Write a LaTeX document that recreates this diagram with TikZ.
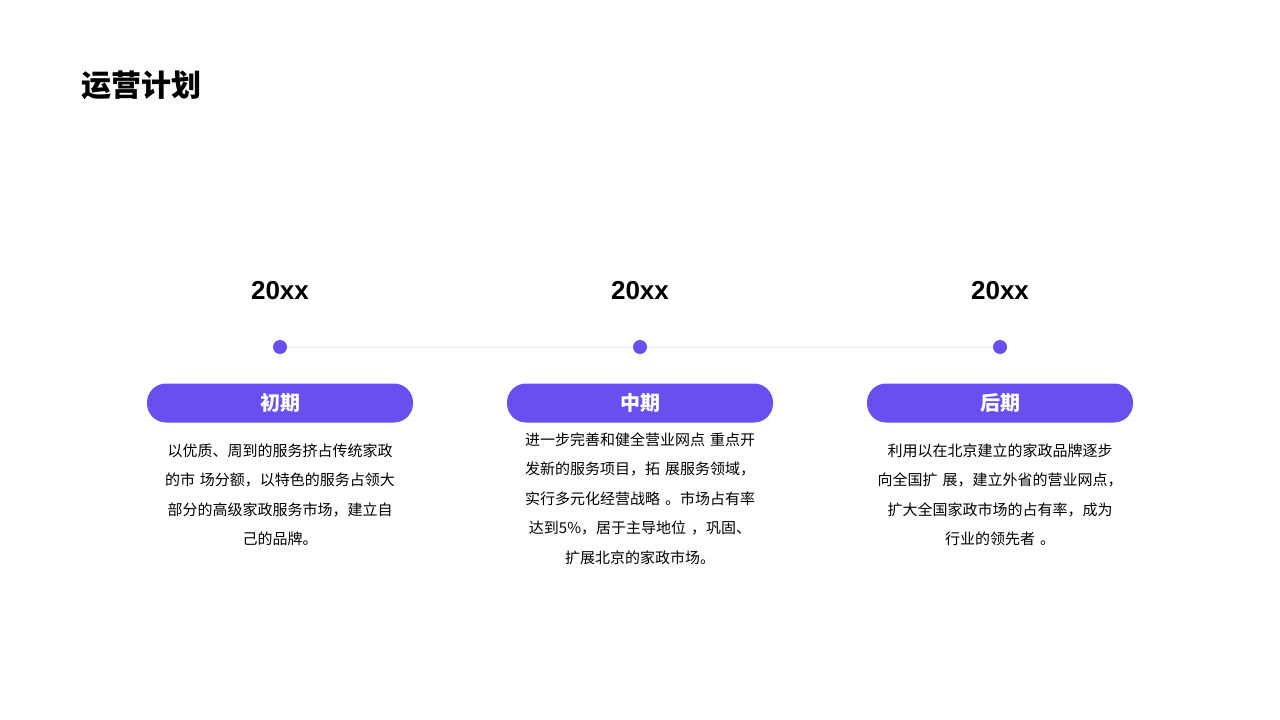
\documentclass[tikz,border=0pt]{standalone}
\usepackage{fontspec}
\setmainfont{Liberation Sans}
\newfontfamily\cjk{Noto Sans CJK SC}
\definecolor{pur}{HTML}{6A4FF0}
\definecolor{ln}{HTML}{E6E6EE}
\begin{document}
\begin{tikzpicture}[x=1pt,y=-1pt,
  pill/.style={fill=pur,rounded corners=19pt,minimum width=266pt,minimum height=39pt,text=white,font=\cjk\bfseries\fontsize{20}{24}\selectfont,inner sep=0pt},
  yr/.style={font=\bfseries\fontsize{26}{30}\selectfont},
  dot/.style={circle,fill=pur,minimum size=14pt,inner sep=0pt},
  body/.style={align=center,font=\cjk\fontsize{15}{29.5}\selectfont,text width=270pt,anchor=north}]
\useasboundingbox (0,0) rectangle (1280,720);
\node[anchor=west,font=\cjk\bfseries\fontsize{30}{34}\selectfont] (t) at (78,85) {运营计划};
\foreach \x/\n/\p in {280/a/初期,640/b/中期,1000/c/后期}{
  \node[yr] (y\n) at (\x,291) {20xx};
  \node[dot] (d\n) at (\x,347) {};
  \node[pill] (p\n) at (\x,403) {\p};
}
\draw[ln,line width=1pt] (da) -- (db) -- (dc);
\node[body] (ta) at (280,440) {以优质、周到的服务挤占传统家政\\的市 场分额，以特色的服务占领大\\部分的高级家政服务市场，建立自\\己的品牌。};
\node[body] (tb) at (640,429) {进一步完善和健全营业网点 重点开\\发新的服务项目，拓 展服务领域，\\实行多元化经营战略 。市场占有率\\达到5\%，居于主导地位 ，巩固、\\扩展北京的家政市场。};
\node[body] (tc) at (1000,440) {利用以在北京建立的家政品牌逐步\\向全国扩 展，建立外省的营业网点，\\扩大全国家政市场的占有率，成为\\行业的领先者 。};
\end{tikzpicture}
\end{document}
